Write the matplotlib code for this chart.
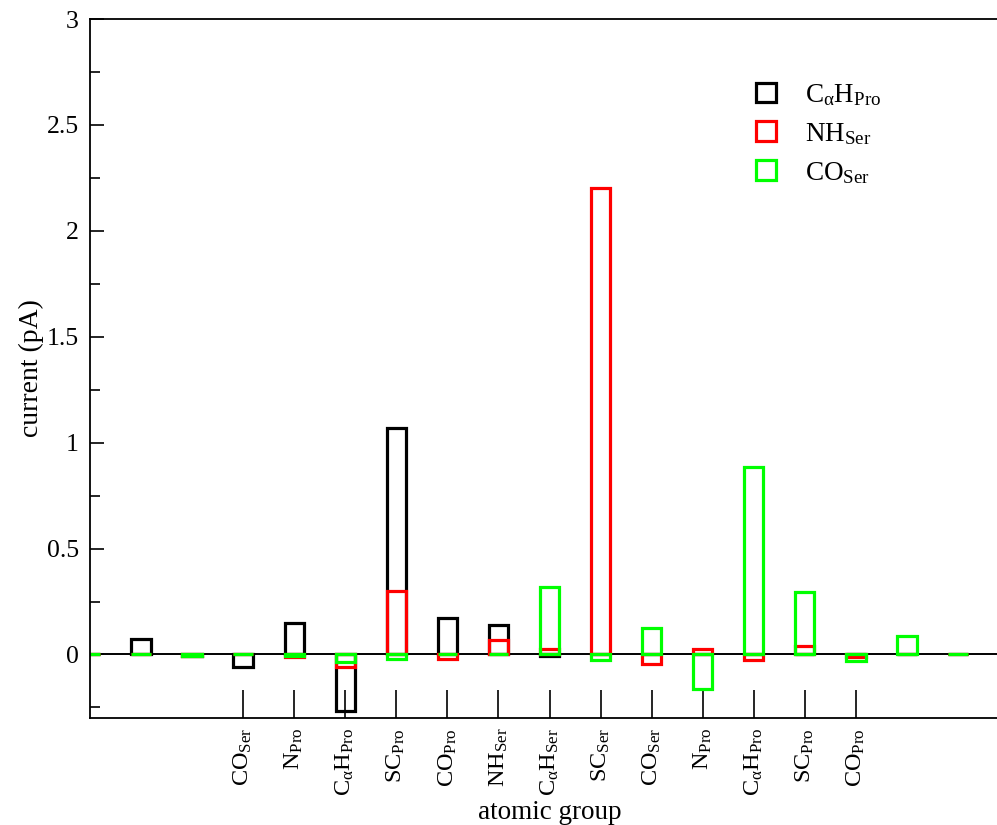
#current contributions of atomic groups (bar outlines overlaid, Grace-like look)
import numpy as np
import matplotlib as mpl
mpl.use('Agg')
import matplotlib.pyplot as plt
from matplotlib.patches import Patch

mpl.rcParams['font.family'] = ['Liberation Serif', 'DejaVu Serif']
mpl.rcParams['mathtext.fontset'] = 'custom'
mpl.rcParams['mathtext.rm'] = 'Liberation Serif'
mpl.rcParams['mathtext.it'] = 'Liberation Serif:italic'

#%% data
group_pos = np.arange(18)
tick_pos = np.arange(3, 16)
tick_labels = [r'CO$_{\mathrm{Ser}}$', r'N$_{\mathrm{Pro}}$', r'C$_{\mathrm{α}}$H$_{\mathrm{Pro}}$',
               r'SC$_{\mathrm{Pro}}$', r'CO$_{\mathrm{Pro}}$', r'NH$_{\mathrm{Ser}}$',
               r'C$_{\mathrm{α}}$H$_{\mathrm{Ser}}$', r'SC$_{\mathrm{Ser}}$', r'CO$_{\mathrm{Ser}}$',
               r'N$_{\mathrm{Pro}}$', r'C$_{\mathrm{α}}$H$_{\mathrm{Pro}}$', r'SC$_{\mathrm{Pro}}$',
               r'CO$_{\mathrm{Pro}}$']

cah_pro = [0.0, 0.075, -0.005, -0.06, 0.148, -0.265, 1.07, 0.173, 0.14, -0.005,
           0.0, 0.0, 0.0, 0.0, 0.0, 0.0, 0.0, 0.0]
nh_ser = [0.0, 0.0, -0.005, 0.0, -0.01, -0.057, 0.30, -0.02, 0.067, 0.027,
          2.2, -0.047, 0.028, -0.024, 0.042, -0.013, 0.0, 0.0]
co_ser = [0.0, 0.0, -0.005, 0.0, -0.005, -0.035, -0.02, 0.0, 0.0, 0.317,
          -0.027, 0.124, -0.165, 0.887, 0.293, -0.032, 0.089, 0.004]

series = [(cah_pro, 'black', r'C$_{\mathrm{α}}$H$_{\mathrm{Pro}}$'),
          (nh_ser, '#ff0000', r'NH$_{\mathrm{Ser}}$'),
          (co_ser, '#00ff00', r'CO$_{\mathrm{Ser}}$')]

#%% plot
fig = plt.figure(figsize=(9.97, 8.25), dpi=100)
W, H = 997.0, 825.0
x0, x1, y0, y1 = 90, 1009, 19, 718
ax = fig.add_axes([x0/W, 1-y1/H, (x1-x0)/W, (y1-y0)/H])

ax.axhline(0, color='black', lw=1.4, zorder=1)
for vals, col, lab in series:
    ax.bar(group_pos, vals, width=0.38, fill=False, edgecolor=col, linewidth=2.3, zorder=2)

ax.set_xlim(0, 18)
ax.set_ylim(-0.3, 3)
ax.set_yticks(np.arange(0, 3.01, 0.5))
ax.set_yticklabels(['0', '0.5', '1', '1.5', '2', '2.5', '3'])
ax.set_yticks(np.arange(-0.25, 3.0, 0.25), minor=True)
ax.set_xticks(tick_pos)
ax.set_xticklabels(tick_labels, rotation=90)

ax.tick_params(axis='y', which='major', direction='in', length=10, width=1.2, labelsize=18.5, pad=8)
ax.tick_params(axis='y', which='minor', direction='in', length=7, width=1.2)
ax.tick_params(axis='x', which='major', direction='in', length=20, width=1.2, labelsize=17.5, pad=7)
for s in ax.spines.values():
    s.set_linewidth(1.3)

ax.set_ylabel('current (pA)', fontsize=20)
ax.yaxis.set_label_coords(-0.05, 0.5)
ax.set_xlabel('atomic group', fontsize=19.5)
ax.xaxis.set_label_coords(0.5, -0.117)

handles = [Patch(facecolor='none', edgecolor=c, linewidth=2.3, label=l) for v, c, l in series]
fig.legend(handles=handles, loc='upper left', bbox_to_anchor=(756/W, 1-82/H),
           frameon=False, fontsize=19.5, handlelength=0.75, handleheight=0.75,
           handletextpad=1.05, labelspacing=0.48, borderpad=0, borderaxespad=0)

plt.savefig('out.png', dpi=100)
